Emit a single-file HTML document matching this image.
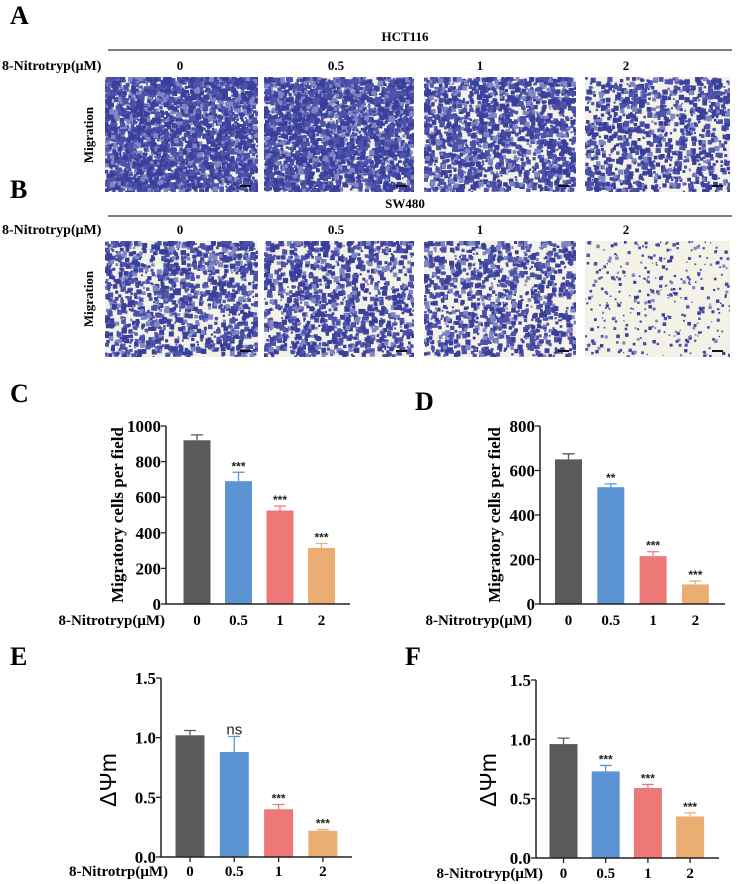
<!DOCTYPE html>
<html><head><meta charset="utf-8">
<style>
html,body{margin:0;padding:0;background:#fff;}
body{width:740px;height:884px;position:relative;overflow:hidden;font-family:"Liberation Serif",serif;}
svg{position:absolute;left:0;top:0;}
</style></head>
<body>
<svg id="fig" width="740" height="884" viewBox="0 0 740 884" xmlns="http://www.w3.org/2000/svg" font-family="Liberation Serif, serif" font-weight="bold">
  <g id="micro">
    <text x="10" y="24" font-size="26">A</text>
    <text x="405" y="41" font-size="13" text-anchor="middle">HCT116</text>
    <line x1="108" y1="50" x2="732" y2="50" stroke="#333" stroke-width="1.3"/>
    <text x="2" y="70" font-size="14">8-Nitrotryp(μM)</text>
    <text transform="translate(93,135) rotate(-90)" font-size="13" text-anchor="middle">Migration</text>
    <text x="10" y="198" font-size="26">B</text>
    <text x="405" y="208" font-size="13" text-anchor="middle">SW480</text>
    <line x1="108" y1="216" x2="732" y2="216" stroke="#333" stroke-width="1.3"/>
    <text x="2" y="234" font-size="14">8-Nitrotryp(μM)</text>
    <text transform="translate(93,299) rotate(-90)" font-size="13" text-anchor="middle">Migration</text>
  </g>
  <g id="charts"></g>
</svg>
<script>
// ---- Chart data ----
const doses = ["0", "0.5", "1", "2"];
const valuesC = [920, 690, 525, 315];
const errorsC = [30, 50, 25, 25];
const sigC = ["", "***", "***", "***"];
const ticksC = [0, 200, 400, 600, 800, 1000];
const valuesD = [650, 525, 215, 88];
const errorsD = [25, 15, 20, 15];
const sigD = ["", "**", "***", "***"];
const ticksD = [0, 200, 400, 600, 800];
const valuesE = [1.02, 0.88, 0.40, 0.22];
const errorsE = [0.04, 0.13, 0.04, 0.01];
const sigE = ["", "ns", "***", "***"];
const ticksE = [0, 0.5, 1.0, 1.5];
const valuesF = [0.96, 0.73, 0.59, 0.35];
const errorsF = [0.05, 0.05, 0.03, 0.03];
const sigF = ["", "***", "***", "***"];
const ticksF = [0, 0.5, 1.0, 1.5];
const barColors = ["#5a5a5a", "#5b93d3", "#ee7777", "#eaae72"];

const NS = "http://www.w3.org/2000/svg";
function mk(tag, attrs, parent){const e=document.createElementNS(NS,tag);for(const k in attrs)e.setAttribute(k,attrs[k]);parent.appendChild(e);return e;}

// ---- Microscopy panels (decorative texture) ----
let seed = 12345;
function rnd(){seed=(seed*1103515245+12345)%2147483648;return seed/2147483648;}
const micro = document.getElementById('micro');
const doseX = [180, 336, 480, 626];
const panelX = [[105,153],[264,150],[424,152],[585,145]];
const densityA = [1.0, 0.95, 0.6, 0.38];
const densityB = [0.45, 0.42, 0.38, 0.18];
function drawPanel(x, y, w, h, dens, name, small){
  const g = mk('g', {}, micro);
  
  
  mk('rect', {x:x, y:y, width:w, height:h, fill:'#f4f2e6'}, g);
  const n = Math.round(w*h*dens/(small?9:6));
  for(let i=0;i<n;i++){
    const cx = x + rnd()*w, cy = y + rnd()*h;
    const r = (small?0.6:0.9) + rnd()*(small?1.2:1.8);
    const shade = rnd();
    const col = shade<0.45 ? '#3a3f9c' : (shade<0.8 ? '#4d52aa' : '#8086c4');
    const x0 = Math.max(x,cx-r), y0 = Math.max(y,cy-r);
    mk('rect', {x:x0, y:y0, width:Math.min(2*r, x+w-x0), height:Math.min(2*r, y+h-y0), fill:col}, g);
  }
  mk('rect', {x:x+w-18, y:y+h-7, width:11, height:2, fill:'#111'}, g);
}
for(let i=0;i<4;i++){
  const t = mk('text', {x:doseX[i], y:70, 'font-size':13, 'text-anchor':'middle'}, micro);
  t.textContent = doses[i];
  
  
  const t2 = mk('text', {x:doseX[i], y:234, 'font-size':13, 'text-anchor':'middle'}, micro);
  t2.textContent = doses[i];
  
  
  drawPanel(panelX[i][0], 77, panelX[i][1], 115, densityA[i], 'hct116-image-' + i, false);
  drawPanel(panelX[i][0], 241, panelX[i][1], 116, densityB[i], 'sw480-image-' + i, i===3);
}

// ---- Bar charts ----
const charts = document.getElementById('charts');
function barChart(cfg, values, errors, sig, ticks){
  const g = mk('g', {}, charts);
  
  
  const ymax = ticks[ticks.length-1];
  const yScale = v => cfg.y0 - (v/ymax)*(cfg.y0-cfg.yTop);
  const xScale = i => cfg.firstBar + i*cfg.step;
  const pl = mk('text', {x:cfg.labelX, y:cfg.labelY, 'font-size':26}, g);
  pl.textContent = cfg.letter;
  
  
  values.forEach((v,i)=>{
    const cx = xScale(i);
    const top = yScale(v), et = yScale(v+errors[i]);
    const b = mk('rect', {x:cx-cfg.bw/2, y:top, width:cfg.bw, height:cfg.y0-top, fill:barColors[i]}, g);
    
    
    const e = mk('path', {d:`M${cx},${top}V${et}M${cx-6},${et}H${cx+6}`, stroke:barColors[i], 'stroke-width':1.3, fill:'none'}, g);
    
    
    if(sig[i]){
      const s = mk('text', {x:cx, y:et-2, 'font-size': sig[i]==='ns'?15:12, 'text-anchor':'middle', 'font-family':'Liberation Sans, sans-serif', 'font-weight': sig[i]==='ns'?'normal':'bold', fill:'#222'}, g);
      s.textContent = sig[i];
      
      
    }
    const xl = mk('text', {x:cx, y:cfg.y0+cfg.xLabelDy, 'font-size':15, 'text-anchor':'middle'}, g);
    xl.textContent = doses[i];
    
    
    if(cfg.xTicks){
      const xt = mk('line', {x1:cx, x2:cx, y1:cfg.y0, y2:cfg.y0+5, stroke:'#222', 'stroke-width':1.3}, g);
      
      
    }
  });
  const ax = mk('path', {d:`M${cfg.axisX},${cfg.yTop}V${cfg.y0}H${cfg.axisEnd}`, stroke:'#222', 'stroke-width':1.5, fill:'none'}, g);
  
  
  ticks.forEach(t=>{
    const y = yScale(t);
    const tl = mk('line', {x1:cfg.axisX-5, x2:cfg.axisX, y1:y, y2:y, stroke:'#222', 'stroke-width':1.3}, g);
    
    
    const tt = mk('text', {x:cfg.axisX-5, y:y+6, 'font-size':17, 'text-anchor':'end'}, g);
    tt.textContent = cfg.decimals ? t.toFixed(1) : String(t);
    
    
  });
  const yt = mk('text', {transform:`translate(${cfg.yTitleX},${cfg.yTitleY}) rotate(-90)`, 'font-size':cfg.yTitleSize, 'text-anchor':'middle', 'font-family':cfg.yTitleFont, 'font-weight':cfg.yTitleWeight}, g);
  yt.textContent = cfg.yTitle;
  
  
  const xt = mk('text', {x:cfg.xTitleX, y:cfg.y0+cfg.xLabelDy, 'font-size':15, 'text-anchor':'end'}, g);
  xt.textContent = cfg.xTitle;
  
  
}
const serifTitle = {yTitleFont:'Liberation Serif, serif', yTitleWeight:'bold', yTitleSize:17};
const sansTitle = {yTitleFont:'Liberation Sans, sans-serif', yTitleWeight:'normal', yTitleSize:23};
barChart(Object.assign({name:'chart-c', letter:'C', labelX:10, labelY:402, axisX:166, axisEnd:350, yTop:426, y0:604, firstBar:197, step:41.5, bw:27, xLabelDy:21, yTitleX:123, yTitleY:515, yTitle:'Migratory cells per field', xTitleX:165, xTitle:'8-Nitrotryp(μM)', decimals:false, xTicks:false}, serifTitle), valuesC, errorsC, sigC, ticksC);
barChart(Object.assign({name:'chart-d', letter:'D', labelX:415, labelY:410, axisX:540, axisEnd:725, yTop:426, y0:604, firstBar:568.5, step:42.3, bw:27, xLabelDy:21, yTitleX:500, yTitleY:515, yTitle:'Migratory cells per field', xTitleX:532, xTitle:'8-Nitrotryp(μM)', decimals:false, xTicks:false}, serifTitle), valuesD, errorsD, sigD, ticksD);
barChart(Object.assign({name:'chart-e', letter:'E', labelX:10, labelY:665, axisX:161, axisEnd:352, yTop:678, y0:857, firstBar:190, step:44.3, bw:29, xLabelDy:19, yTitleX:116, yTitleY:780, yTitle:'ΔΨm', xTitleX:168, xTitle:'8-Nitrotrp(μM)', decimals:true, xTicks:true}, sansTitle), valuesE, errorsE, sigE, ticksE);
barChart(Object.assign({name:'chart-f', letter:'F', labelX:405, labelY:665, axisX:536, axisEnd:719, yTop:680, y0:858, firstBar:563.5, step:42.2, bw:28, xLabelDy:20, yTitleX:496, yTitleY:780, yTitle:'ΔΨm', xTitleX:543, xTitle:'8-Nitrotryp(μM)', decimals:true, xTicks:true}, sansTitle), valuesF, errorsF, sigF, ticksF);
</script>
</body></html>
